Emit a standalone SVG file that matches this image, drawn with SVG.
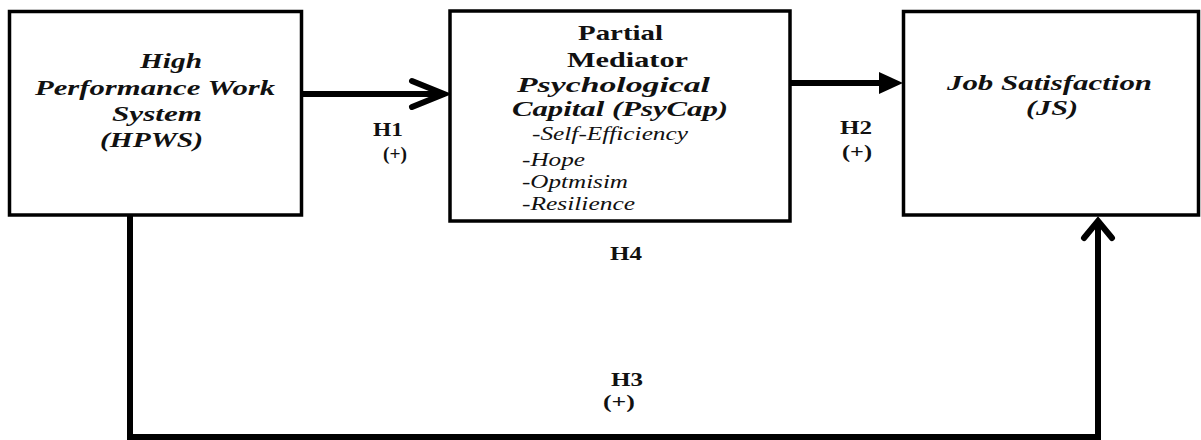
<svg xmlns="http://www.w3.org/2000/svg" width="1201" height="440" viewBox="0 0 1201 440">
<style>
.box{fill:#fff;stroke:#000;stroke-width:3.5}
.t{font-family:"Liberation Serif","Times New Roman",serif;fill:#111}
.bi{font-weight:bold;font-style:italic;font-size:22px}
.b{font-weight:bold;font-size:22px}
.i{font-style:italic;font-size:19px}
.h{font-weight:bold;font-size:18px}
.c{fill:none;stroke:#000;stroke-width:6}
.head{fill:#000}
</style>
<rect width="1201" height="440" fill="#fff"/>
<g id="connectors">
<path class="c" d="M302,94 H444"/>
<path class="c" d="M412,81 L444,94 L412,107" stroke-linejoin="miter" stroke-linecap="round"/>
<path class="c" d="M790,83 H884"/>
<path class="head" d="M879,72 L903,83 L879,94 Z"/>
<path class="c" d="M130,216 V437 H1098 V220"/>
<path class="c" d="M1084,238 L1098,221 L1112,238" stroke-linecap="round"/>
</g>
<g id="hpws">
<rect class="box" x="9.5" y="11.5" width="292" height="203.5"/>
<text class="t bi" x="140" y="68" textLength="62" lengthAdjust="spacingAndGlyphs">High</text>
<text class="t bi" x="35" y="95" textLength="240" lengthAdjust="spacingAndGlyphs">Performance Work</text>
<text class="t bi" x="112" y="121" textLength="90" lengthAdjust="spacingAndGlyphs">System</text>
<text class="t bi" x="100" y="147" textLength="103" lengthAdjust="spacingAndGlyphs">(HPWS)</text>
</g>
<g id="psycap">
<rect class="box" x="450" y="11" width="340" height="210"/>
<text class="t b" x="578" y="40" textLength="85" lengthAdjust="spacingAndGlyphs">Partial</text>
<text class="t b" x="567" y="67" textLength="121" lengthAdjust="spacingAndGlyphs">Mediator</text>
<text class="t bi" x="517" y="92" textLength="193" lengthAdjust="spacingAndGlyphs">Psychological</text>
<text class="t bi" x="512" y="116" textLength="216" lengthAdjust="spacingAndGlyphs">Capital (PsyCap)</text>
<text class="t i" x="532" y="140" textLength="156" lengthAdjust="spacingAndGlyphs">-Self-Efficiency</text>
<text class="t i" x="522" y="166" textLength="63" lengthAdjust="spacingAndGlyphs">-Hope</text>
<text class="t i" x="522" y="188" textLength="106" lengthAdjust="spacingAndGlyphs">-Optmisim</text>
<text class="t i" x="522" y="210" textLength="113" lengthAdjust="spacingAndGlyphs">-Resilience</text>
</g>
<g id="js">
<rect class="box" x="903.5" y="11.5" width="295" height="203.5"/>
<text class="t bi" x="947" y="90" textLength="205" lengthAdjust="spacingAndGlyphs">Job Satisfaction</text>
<text class="t bi" x="1026" y="115" textLength="52" lengthAdjust="spacingAndGlyphs">(JS)</text>
</g>
<g id="labels">
<text class="t h" x="373" y="136" textLength="30" lengthAdjust="spacingAndGlyphs">H1</text>
<text class="t h" x="383" y="160" textLength="24" lengthAdjust="spacingAndGlyphs">(+)</text>
<text class="t h" x="840" y="134" textLength="32" lengthAdjust="spacingAndGlyphs">H2</text>
<text class="t h" x="842" y="158" textLength="30" lengthAdjust="spacingAndGlyphs">(+)</text>
<text class="t h" x="610" y="260" textLength="32" lengthAdjust="spacingAndGlyphs">H4</text>
<text class="t h" x="611" y="386" textLength="32" lengthAdjust="spacingAndGlyphs">H3</text>
<text class="t h" x="603" y="408" textLength="32" lengthAdjust="spacingAndGlyphs">(+)</text>
</g>
</svg>
